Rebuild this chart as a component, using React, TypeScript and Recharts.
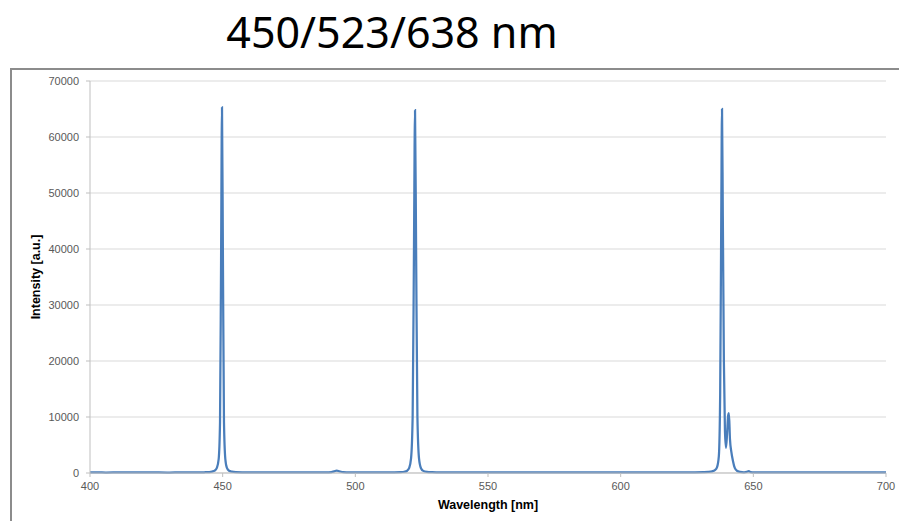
import React from "react";
import { LineChart, Line, XAxis, YAxis, CartesianGrid, Label } from "recharts";

const title = "450/523/638 nm";
const xTicks = [400, 450, 500, 550, 600, 650, 700];
const yTicks = [0, 10000, 20000, 30000, 40000, 50000, 60000, 70000];

const base1Wl = [400, 403, 406, 410, 414, 418, 422, 426, 430, 434, 438, 441, 443, 445];
const base1Int = [90, 110, 80, 100, 120, 90, 110, 100, 85, 115, 100, 110, 130, 170];

const peak450Wl = [446, 447, 447.8, 448.5, 449.0, 449.4, 449.75, 450.1, 450.5, 451.0, 451.6, 452.4, 453.5];
const peak450Int = [250, 420, 900, 2500, 9000, 38000, 65300, 38000, 9000, 2500, 900, 400, 230];

const base2Wl = [455, 458, 462, 466, 470, 474, 478, 482, 486, 489, 491, 492, 493, 494, 495.5, 498, 502, 506, 510, 514, 517];
const base2Int = [150, 110, 90, 120, 100, 90, 110, 100, 120, 110, 170, 300, 420, 300, 160, 110, 100, 120, 90, 110, 140];

const peak523Wl = [518.5, 519.5, 520.3, 521.0, 521.6, 522.1, 522.5, 522.9, 523.4, 524.0, 524.7, 525.6, 527];
const peak523Int = [220, 400, 900, 2600, 10000, 40000, 64800, 40000, 10000, 2600, 900, 380, 200];

const base3Wl = [529, 532, 536, 540, 545, 550, 555, 560, 565, 570, 575, 580, 585, 590, 595, 600, 605, 610, 615, 620, 624, 628, 631, 633];
const base3Int = [140, 110, 120, 100, 90, 110, 100, 90, 110, 100, 120, 95, 105, 100, 90, 110, 100, 95, 110, 100, 120, 130, 160, 200];

const peak638Wl = [634.5, 635.5, 636.3, 637.0, 637.5, 637.9, 638.2, 638.5, 638.9, 639.3, 639.7, 640.1, 640.5, 640.8, 641.2, 641.7, 642.3, 643.0, 643.8, 645, 646.5, 647.5, 648.3, 649];
const peak638Int = [300, 500, 1000, 3000, 14000, 45000, 65000, 46000, 20000, 7500, 4500, 7000, 10200, 10700, 6000, 3800, 2200, 900, 400, 200, 130, 200, 320, 150];

const base4Wl = [650.5, 653, 657, 661, 665, 670, 675, 680, 685, 690, 695, 700];
const base4Int = [110, 100, 90, 110, 100, 95, 110, 100, 90, 105, 100, 95];

const segments: [number[], number[]][] = [
  [base1Wl, base1Int],
  [peak450Wl, peak450Int],
  [base2Wl, base2Int],
  [peak523Wl, peak523Int],
  [base3Wl, base3Int],
  [peak638Wl, peak638Int],
  [base4Wl, base4Int],
];

const data = segments.flatMap(([wl, it]) => wl.map((w, i) => ({ wl: w, intensity: it[i] })));

const tickStyle = { fontFamily: "Liberation Sans, Arial, sans-serif", fontSize: 11, fill: "#595959" };
const labelStyle = { fontFamily: "Liberation Sans, Arial, sans-serif", fontSize: 12.5, fontWeight: "bold", fill: "#000" };

export default function App() {
  return (
    <div style={{ position: "absolute", left: 0, top: 0, width: 899, height: 521, background: "#fff", overflow: "hidden" }}>
      <div
        style={{
          position: "absolute",
          left: 0,
          width: 784,
          top: 3,
          textAlign: "center",
          fontFamily: "Noto Sans, sans-serif",
          fontSize: 43,
          color: "#000",
          lineHeight: "58px",
        }}
      >
        {title}
      </div>
      <div
        style={{
          position: "absolute",
          left: 10,
          top: 68,
          width: 900,
          height: 460,
          borderTop: "2px solid #8c8c8c",
          borderLeft: "2px solid #8c8c8c",
        }}
      />
      <div style={{ position: "absolute", left: 0, top: 0 }}>
        <LineChart width={899} height={521} data={data} margin={{ top: 81, right: 13, bottom: 18, left: 40 }}>
          <CartesianGrid vertical={false} stroke="#d9d9d9" strokeWidth={1} />
          <XAxis
            dataKey="wl"
            type="number"
            domain={[400, 700]}
            ticks={xTicks}
            allowDataOverflow
            height={30}
            tickSize={4}
            tickMargin={5}
            stroke="#bfbfbf"
            tick={tickStyle}
          >
            <Label value="Wavelength [nm]" position="insideBottom" offset={-6} style={labelStyle} />
          </XAxis>
          <YAxis
            type="number"
            domain={[0, 70000]}
            ticks={yTicks}
            width={50}
            tickSize={4}
            tickMargin={7}
            stroke="#bfbfbf"
            tick={tickStyle}
          >
            <Label
              value="Intensity [a.u.]"
              angle={-90}
              position="insideLeft"
              offset={-4}
              style={{ ...labelStyle, textAnchor: "middle" }}
            />
          </YAxis>
          <Line
            type="monotone"
            dataKey="intensity"
            stroke="#4a7ebb"
            strokeWidth={2.25}
            dot={false}
            isAnimationActive={false}
          />
        </LineChart>
      </div>
    </div>
  );
}
